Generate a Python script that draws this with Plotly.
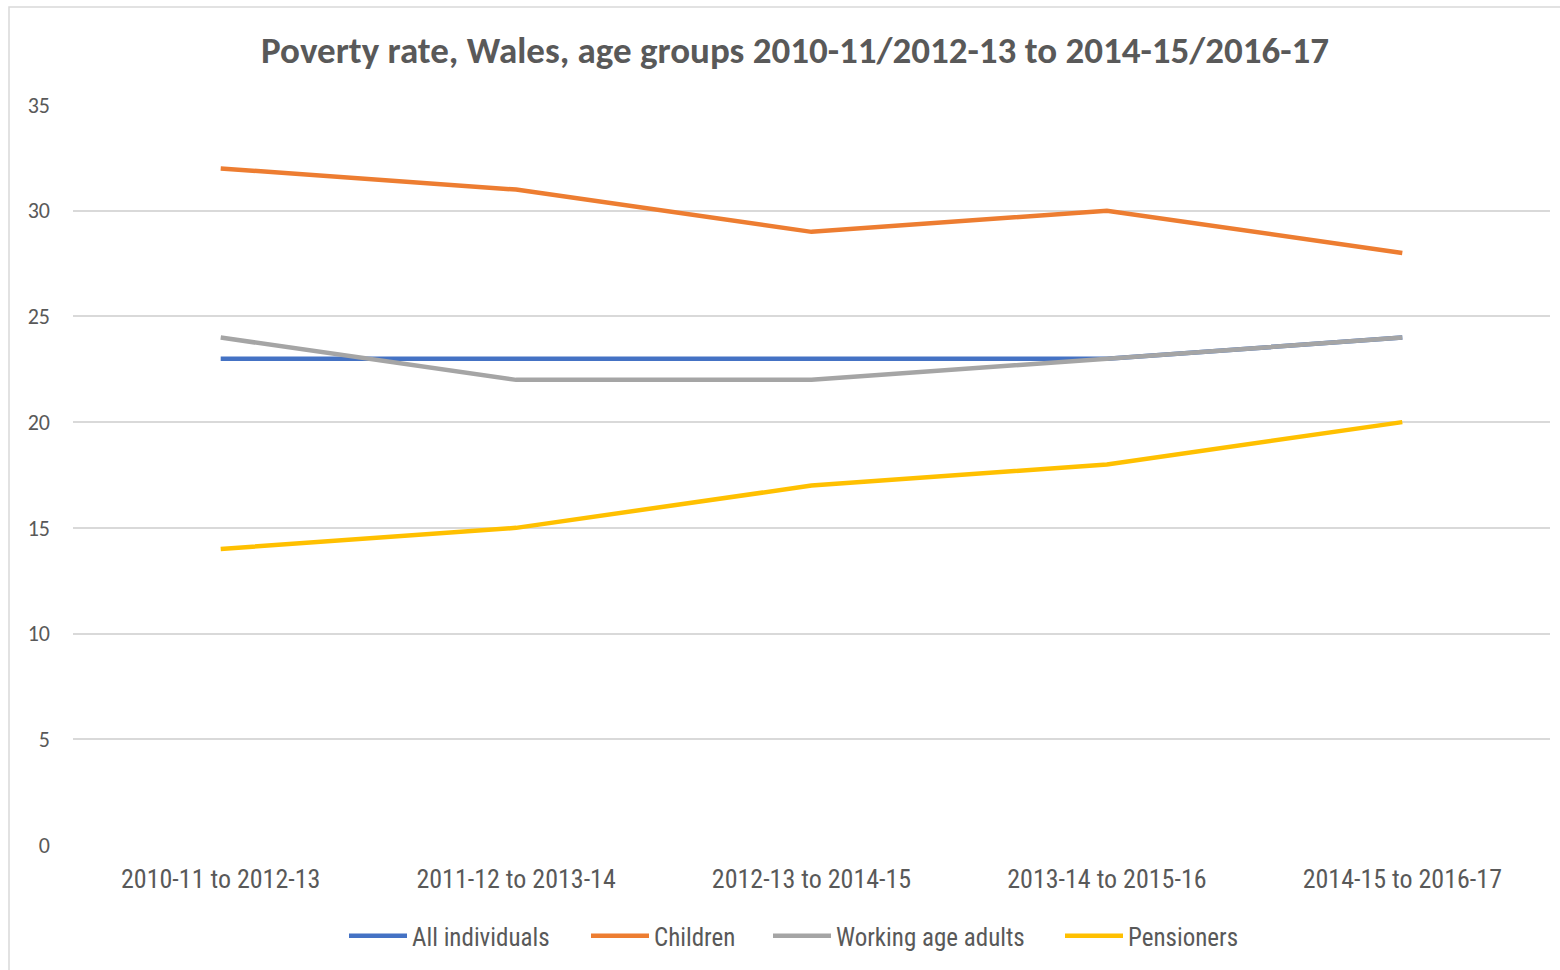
import plotly.graph_objects as go

categories = ["2010-11 to 2012-13", "2011-12 to 2013-14", "2012-13 to 2014-15",
              "2013-14 to 2015-16", "2014-15 to 2016-17"]
all_individuals = [23, 23, 23, 23, 24]
children = [32, 31, 29, 30, 28]
working_age = [24, 22, 22, 23, 24]
pensioners = [14, 15, 17, 18, 20]

series_names = ["All individuals", "Children", "Working age adults", "Pensioners"]
series_values = [all_individuals, children, working_age, pensioners]
colors = ["#4472C4", "#ED7D31", "#A5A5A5", "#FFC000"]

y_ticks = [0, 5, 10, 15, 20, 25, 30, 35]

narrow = "Liberation Sans Narrow, Arial Narrow, Roboto Condensed, Liberation Sans, sans-serif"
cal = "Carlito, Calibri, Lato, Open Sans, sans-serif"

# left pixel of each legend entry (symbol start) in the reference
legend_left_px = [352, 594, 776, 1068]
legend_ids = ["legend", "legend2", "legend3", "legend4"]

fig = go.Figure()
for name, vals, col, lid in zip(series_names, series_values, colors, legend_ids):
    fig.add_trace(go.Scatter(x=categories, y=vals, mode="lines", name=name,
                             line=dict(color=col, width=4.5), legend=lid))

W, H = 1560, 970
ml, mr, mt, mb = 73, 10, 105, 125
pw, ph = W - ml - mr, H - mt - mb

def px_x(p):
    return (p - ml) / pw

def px_y(p):
    return 1 - (p - mt) / ph

legend_common = dict(orientation="h", xanchor="left", xref="container",
                     y=1 - 936 / H, yref="container", yanchor="middle",
                     font=dict(family=narrow, size=25, color="#595959"),
                     itemwidth=58, tracegroupgap=0, bgcolor="rgba(0,0,0,0)")
legend_layout = {}
for lid, lx in zip(legend_ids, legend_left_px):
    legend_layout[lid] = dict(legend_common, x=(lx - 8) / W)

fig.update_layout(
    width=W, height=H,
    margin=dict(l=ml, r=mr, t=mt, b=mb),
    paper_bgcolor="white", plot_bgcolor="white",
    title=dict(text="<b>Poverty rate, Wales, age groups 2010-11/2012-13 to 2014-15/2016-17</b>",
               x=795 / W, xref="container", xanchor="center",
               y=1 - 50 / H, yref="container", yanchor="middle",
               font=dict(family=cal, size=37, color="#595959")),
    xaxis=dict(type="category", range=[-0.5, 4.5], showgrid=False, showline=False,
               ticks="", tickfont=dict(family=narrow, size=26, color="#595959"),
               ticklabelstandoff=16),
    yaxis=dict(range=[0, 35], tickvals=y_ticks, showgrid=True, gridcolor="#D9D9D9",
               gridwidth=1.5, zeroline=False, showline=False, ticks="",
               tickfont=dict(family=cal, size=22, color="#595959"),
               ticklabelstandoff=22),
    showlegend=True,
    shapes=[dict(type="rect", xref="paper", yref="paper",
                 x0=px_x(9), x1=px_x(1570), y0=px_y(1000), y1=px_y(7),
                 line=dict(color="#D9D9D9", width=1.5), fillcolor="rgba(0,0,0,0)",
                 layer="below")],
    **legend_layout,
)

fig.write_html("out.html", config={"displayModeBar": False},
               post_script="document.body.style.margin='0';")
